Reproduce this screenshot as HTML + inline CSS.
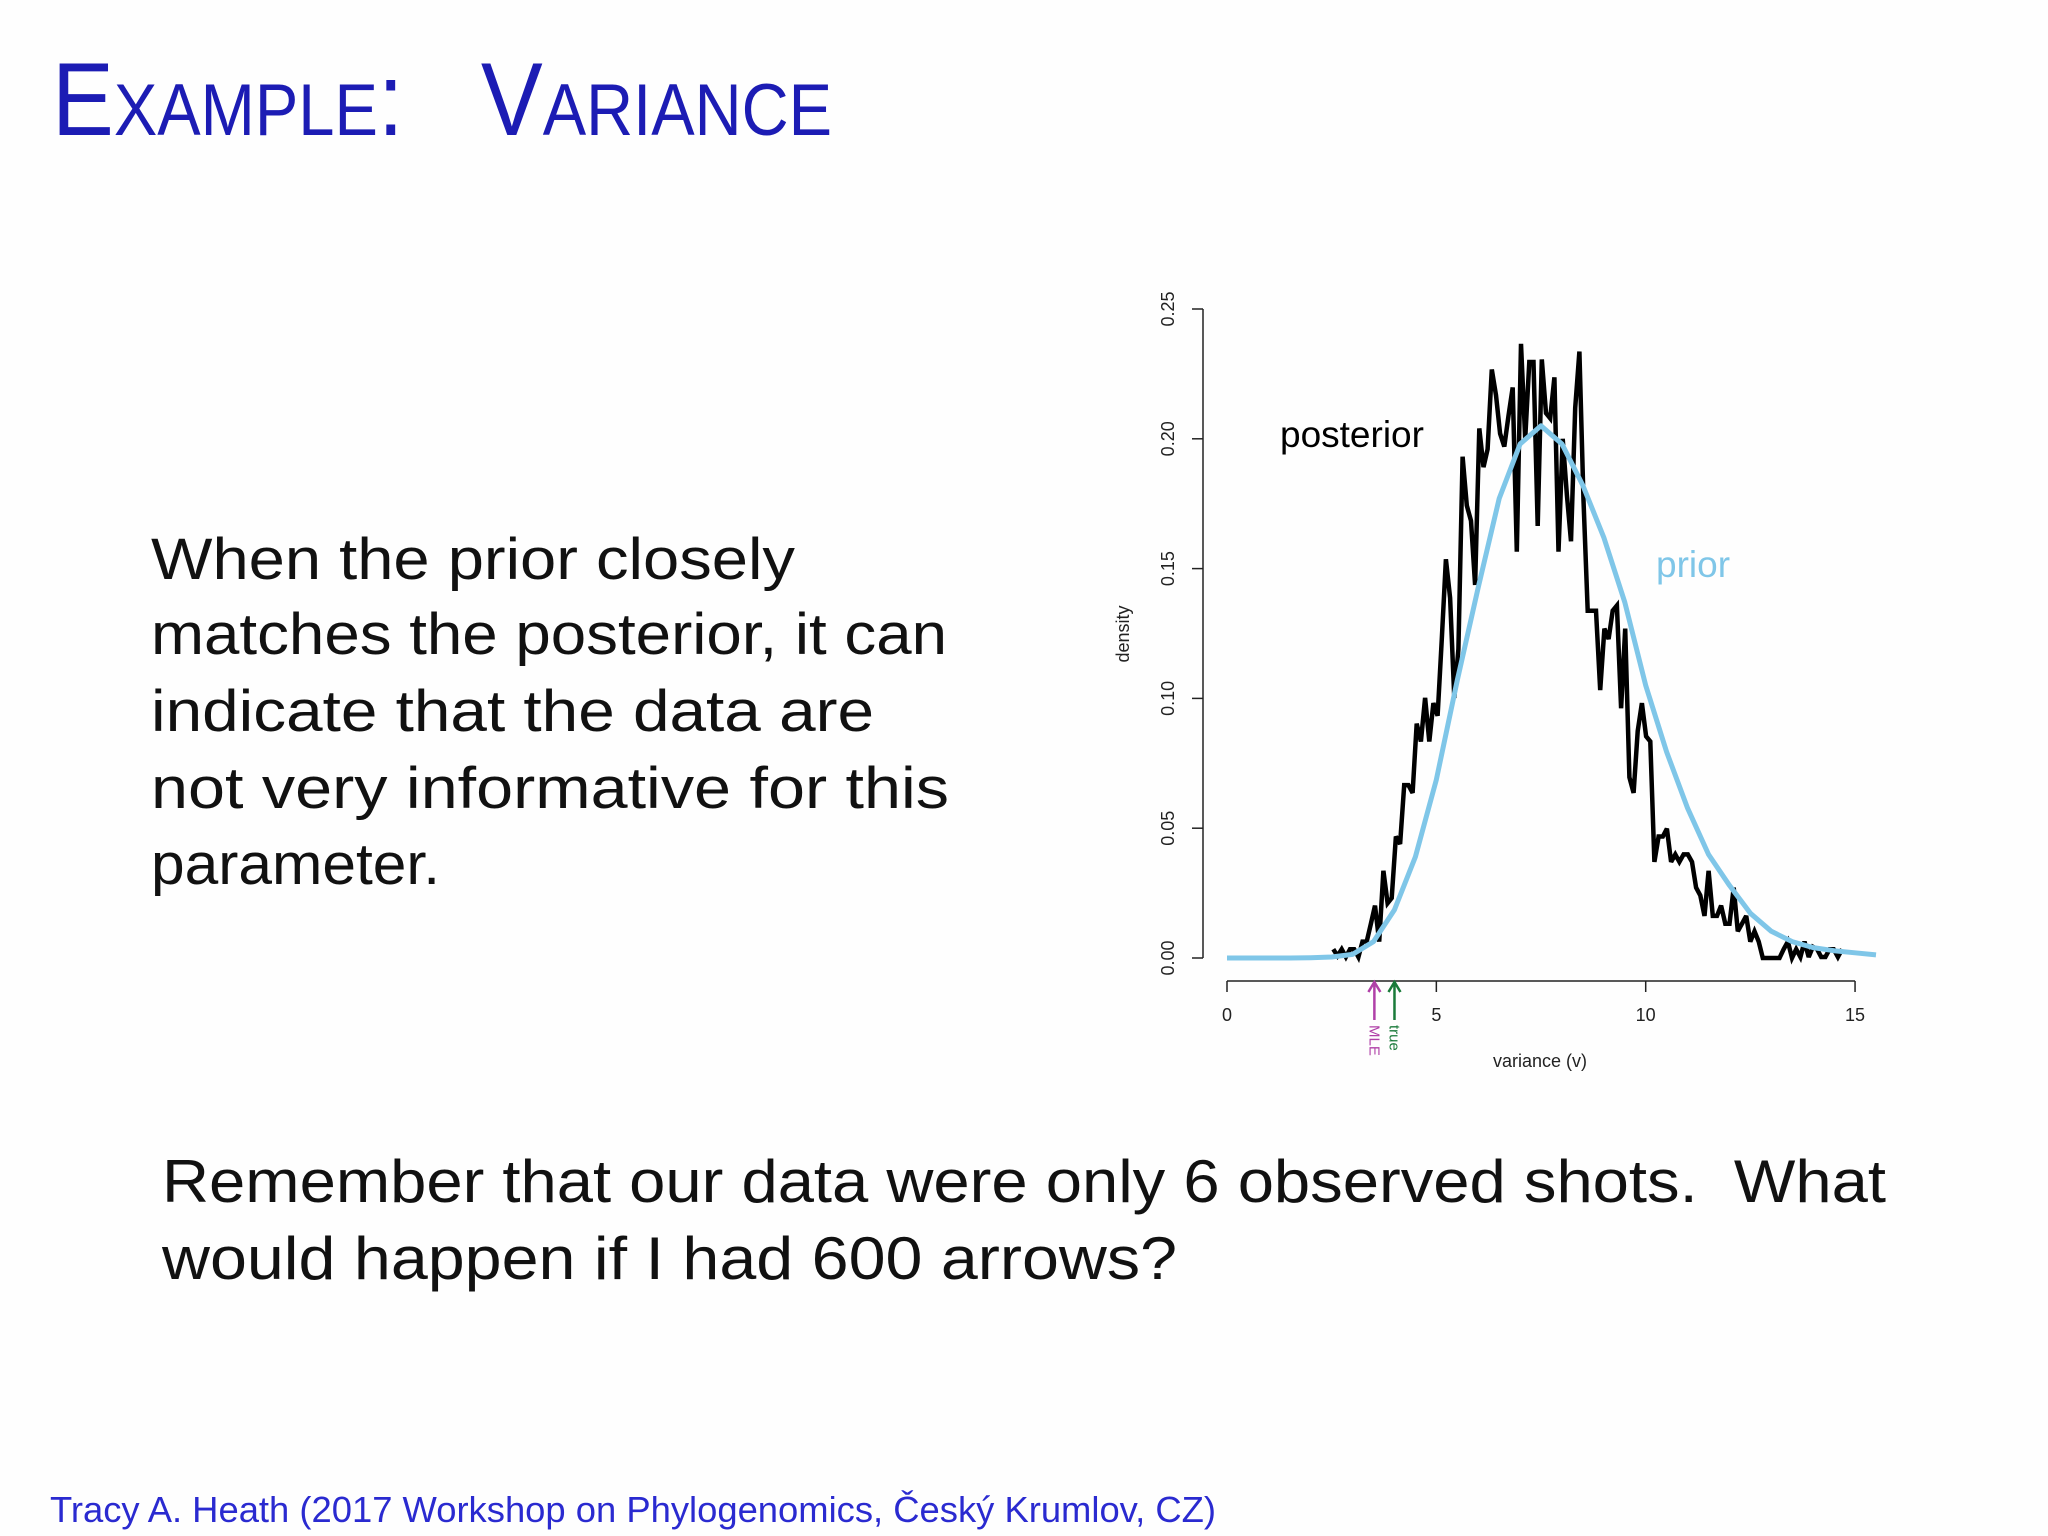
<!DOCTYPE html>
<html><head><meta charset="utf-8"><style>
html,body{margin:0;padding:0;background:#fff}
svg{display:block}
text{font-family:"Liberation Sans",sans-serif}
</style></head><body>
<svg id="slide" width="2048" height="1536" viewBox="0 0 2048 1536">
<rect width="2048" height="1536" fill="#fefefe"/>
<text x="52" y="135" fill="#1c1cb4" font-size="104" style="font-variant:small-caps" textLength="780" lengthAdjust="spacingAndGlyphs">Example:&#160;&#160;&#160;Variance</text>
<g fill="#111" font-size="58">
<text x="151" y="579" textLength="644" lengthAdjust="spacingAndGlyphs">When the prior closely</text>
<text x="151" y="654" textLength="796" lengthAdjust="spacingAndGlyphs">matches the posterior, it can</text>
<text x="151" y="731" textLength="723" lengthAdjust="spacingAndGlyphs">indicate that the data are</text>
<text x="151" y="808" textLength="798" lengthAdjust="spacingAndGlyphs">not very informative for this</text>
<text x="151" y="884" textLength="289" lengthAdjust="spacingAndGlyphs">parameter.</text>
</g>
<g fill="#111" font-size="60">
<text x="162" y="1202" textLength="1724" lengthAdjust="spacingAndGlyphs">Remember that our data were only 6 observed shots.&#160; What</text>
<text x="162" y="1279" textLength="1015" lengthAdjust="spacingAndGlyphs">would happen if I had 600 arrows?</text>
</g>
<text x="50" y="1522" fill="#2a2ad0" font-size="36" textLength="1166" lengthAdjust="spacingAndGlyphs">Tracy A. Heath (2017 Workshop on Phylogenomics, Český Krumlov, CZ)</text>
<g id="chart"></g>
</svg>
<script>
const xTicks=[0,5,10,15];
const yTicks=[0,0.05,0.10,0.15,0.20,0.25];
const yTickLabels=["0.00","0.05","0.10","0.15","0.20","0.25"];
const priorX=[0,0.5,1,1.5,2,2.5,3,3.5,4,4.5,5,5.5,6,6.5,7,7.5,8,8.5,9,9.5,10,10.5,11,11.5,12,12.5,13,13.5,14,14.5,15,15.5];
const priorY=[0,0,0,0,0.0001,0.0004,0.0014,0.0063,0.0186,0.039,0.0686,0.107,0.1427,0.177,0.198,0.205,0.198,0.182,0.162,0.137,0.105,0.0794,0.0577,0.0399,0.028,0.0172,0.0103,0.0063,0.004,0.0028,0.002,0.0012];
const postStart=2.54, postEnd=14.69;
const postY=[.0034,.0008,.0034,.0004,.0034,.0034,.0004,.0063,.0063,.0132,.0202,.0063,.0336,.0211,.0231,.0468,.0439,.0666,.0666,.0636,.0903,.0834,.1002,.0834,.0982,.0933,.1229,.1536,.1387,.1002,.119,.1931,.1743,.1684,.1437,.204,.1891,.196,.2267,.2168,.202,.197,.2089,.2198,.1565,.2366,.2,.2296,.2296,.1664,.2306,.2099,.2079,.2237,.1565,.2,.1783,.1605,.2119,.2336,.1763,.1338,.1338,.1338,.1032,.1269,.1229,.1338,.1358,.0962,.1269,.0696,.0636,.0874,.0982,.0854,.0834,.037,.0468,.0468,.0498,.037,.0399,.037,.0399,.0399,.037,.0271,.0241,.0162,.0336,.0162,.0162,.0202,.0132,.0132,.0271,.0103,.0132,.0162,.0063,.0103,.0063,0,0,0,0,0,.0034,.0063,0,.0034,.0004,.0063,.0004,.0043,.0034,.0004,.0004,.0034,.0034,.0004,.0034];
const mleX=3.52, trueX=4.0;

const X=v=>1227+v*41.87;
const Y=d=>958-d*2596;
const NS="http://www.w3.org/2000/svg";
const g=document.getElementById('chart');
function mk(tag,attrs,parent){const e=document.createElementNS(NS,tag);for(const k in attrs)e.setAttribute(k,attrs[k]);(parent||g).appendChild(e);return e;}

let ya=mk('line',{x1:1203,x2:1203,y1:Y(0),y2:Y(0.25),stroke:'#222','stroke-width':1.5});


yTicks.forEach((t,i)=>{
  let tk=mk('line',{x1:1192,x2:1203,y1:Y(t),y2:Y(t),stroke:'#222','stroke-width':1.5});
  
  
  let tx=mk('text',{x:0,y:0,'font-size':18,fill:'#222','text-anchor':'middle',transform:`translate(1174,${Y(t)}) rotate(-90)`});
  tx.textContent=yTickLabels[i];
  
  
});
let yt=mk('text',{x:0,y:0,'font-size':18,fill:'#222','text-anchor':'middle',transform:'translate(1129,634) rotate(-90)'});
yt.textContent='density';



let xa=mk('line',{x1:X(0),x2:X(15),y1:981,y2:981,stroke:'#222','stroke-width':1.5});


xTicks.forEach(t=>{
  let tk=mk('line',{x1:X(t),x2:X(t),y1:981,y2:992,stroke:'#222','stroke-width':1.5});
  
  
  let tx=mk('text',{x:X(t),y:1021,'font-size':18,fill:'#222','text-anchor':'middle'});
  tx.textContent=String(t);
  
  
});
let xt=mk('text',{x:1540,y:1067,'font-size':18,fill:'#222','text-anchor':'middle'});
xt.textContent='variance (v)';



const n=postY.length;
let pp=postY.map((d,i)=>`${X(postStart+(postEnd-postStart)*i/(n-1)).toFixed(1)},${Y(d).toFixed(1)}`).join(' ');
let post=mk('polyline',{points:pp,fill:'none',stroke:'#000','stroke-width':4.5,'stroke-linejoin':'miter','stroke-miterlimit':3});


let pr=priorX.map((x,i)=>`${X(x).toFixed(1)},${Y(priorY[i]).toFixed(1)}`).join(' ');
let prior=mk('polyline',{points:pr,fill:'none',stroke:'#7fc6e8','stroke-width':5,'stroke-linejoin':'round'});



let lp=mk('text',{x:1280,y:447,'font-size':37,fill:'#000'});
lp.textContent='posterior';


let lr=mk('text',{x:1656,y:577,'font-size':37,fill:'#7fc6e8'});
lr.textContent='prior';



[[mleX,'#b040a8','MLE','mle-arrow'],[trueX,'#1a7a3a','true','true-arrow']].forEach(([v,c,lab,nm])=>{
  const ax=X(v);
  let a=mk('path',{d:`M${ax} 1020 L${ax} 983 M${ax-6} 992 L${ax} 982 L${ax+6} 992`,stroke:c,'stroke-width':2.5,fill:'none'});
  
  
  let t=mk('text',{x:0,y:0,'font-size':15,fill:c,transform:`translate(${ax-5},1025) rotate(90)`});
  t.textContent=lab;
  
  
});
</script>
</body></html>
